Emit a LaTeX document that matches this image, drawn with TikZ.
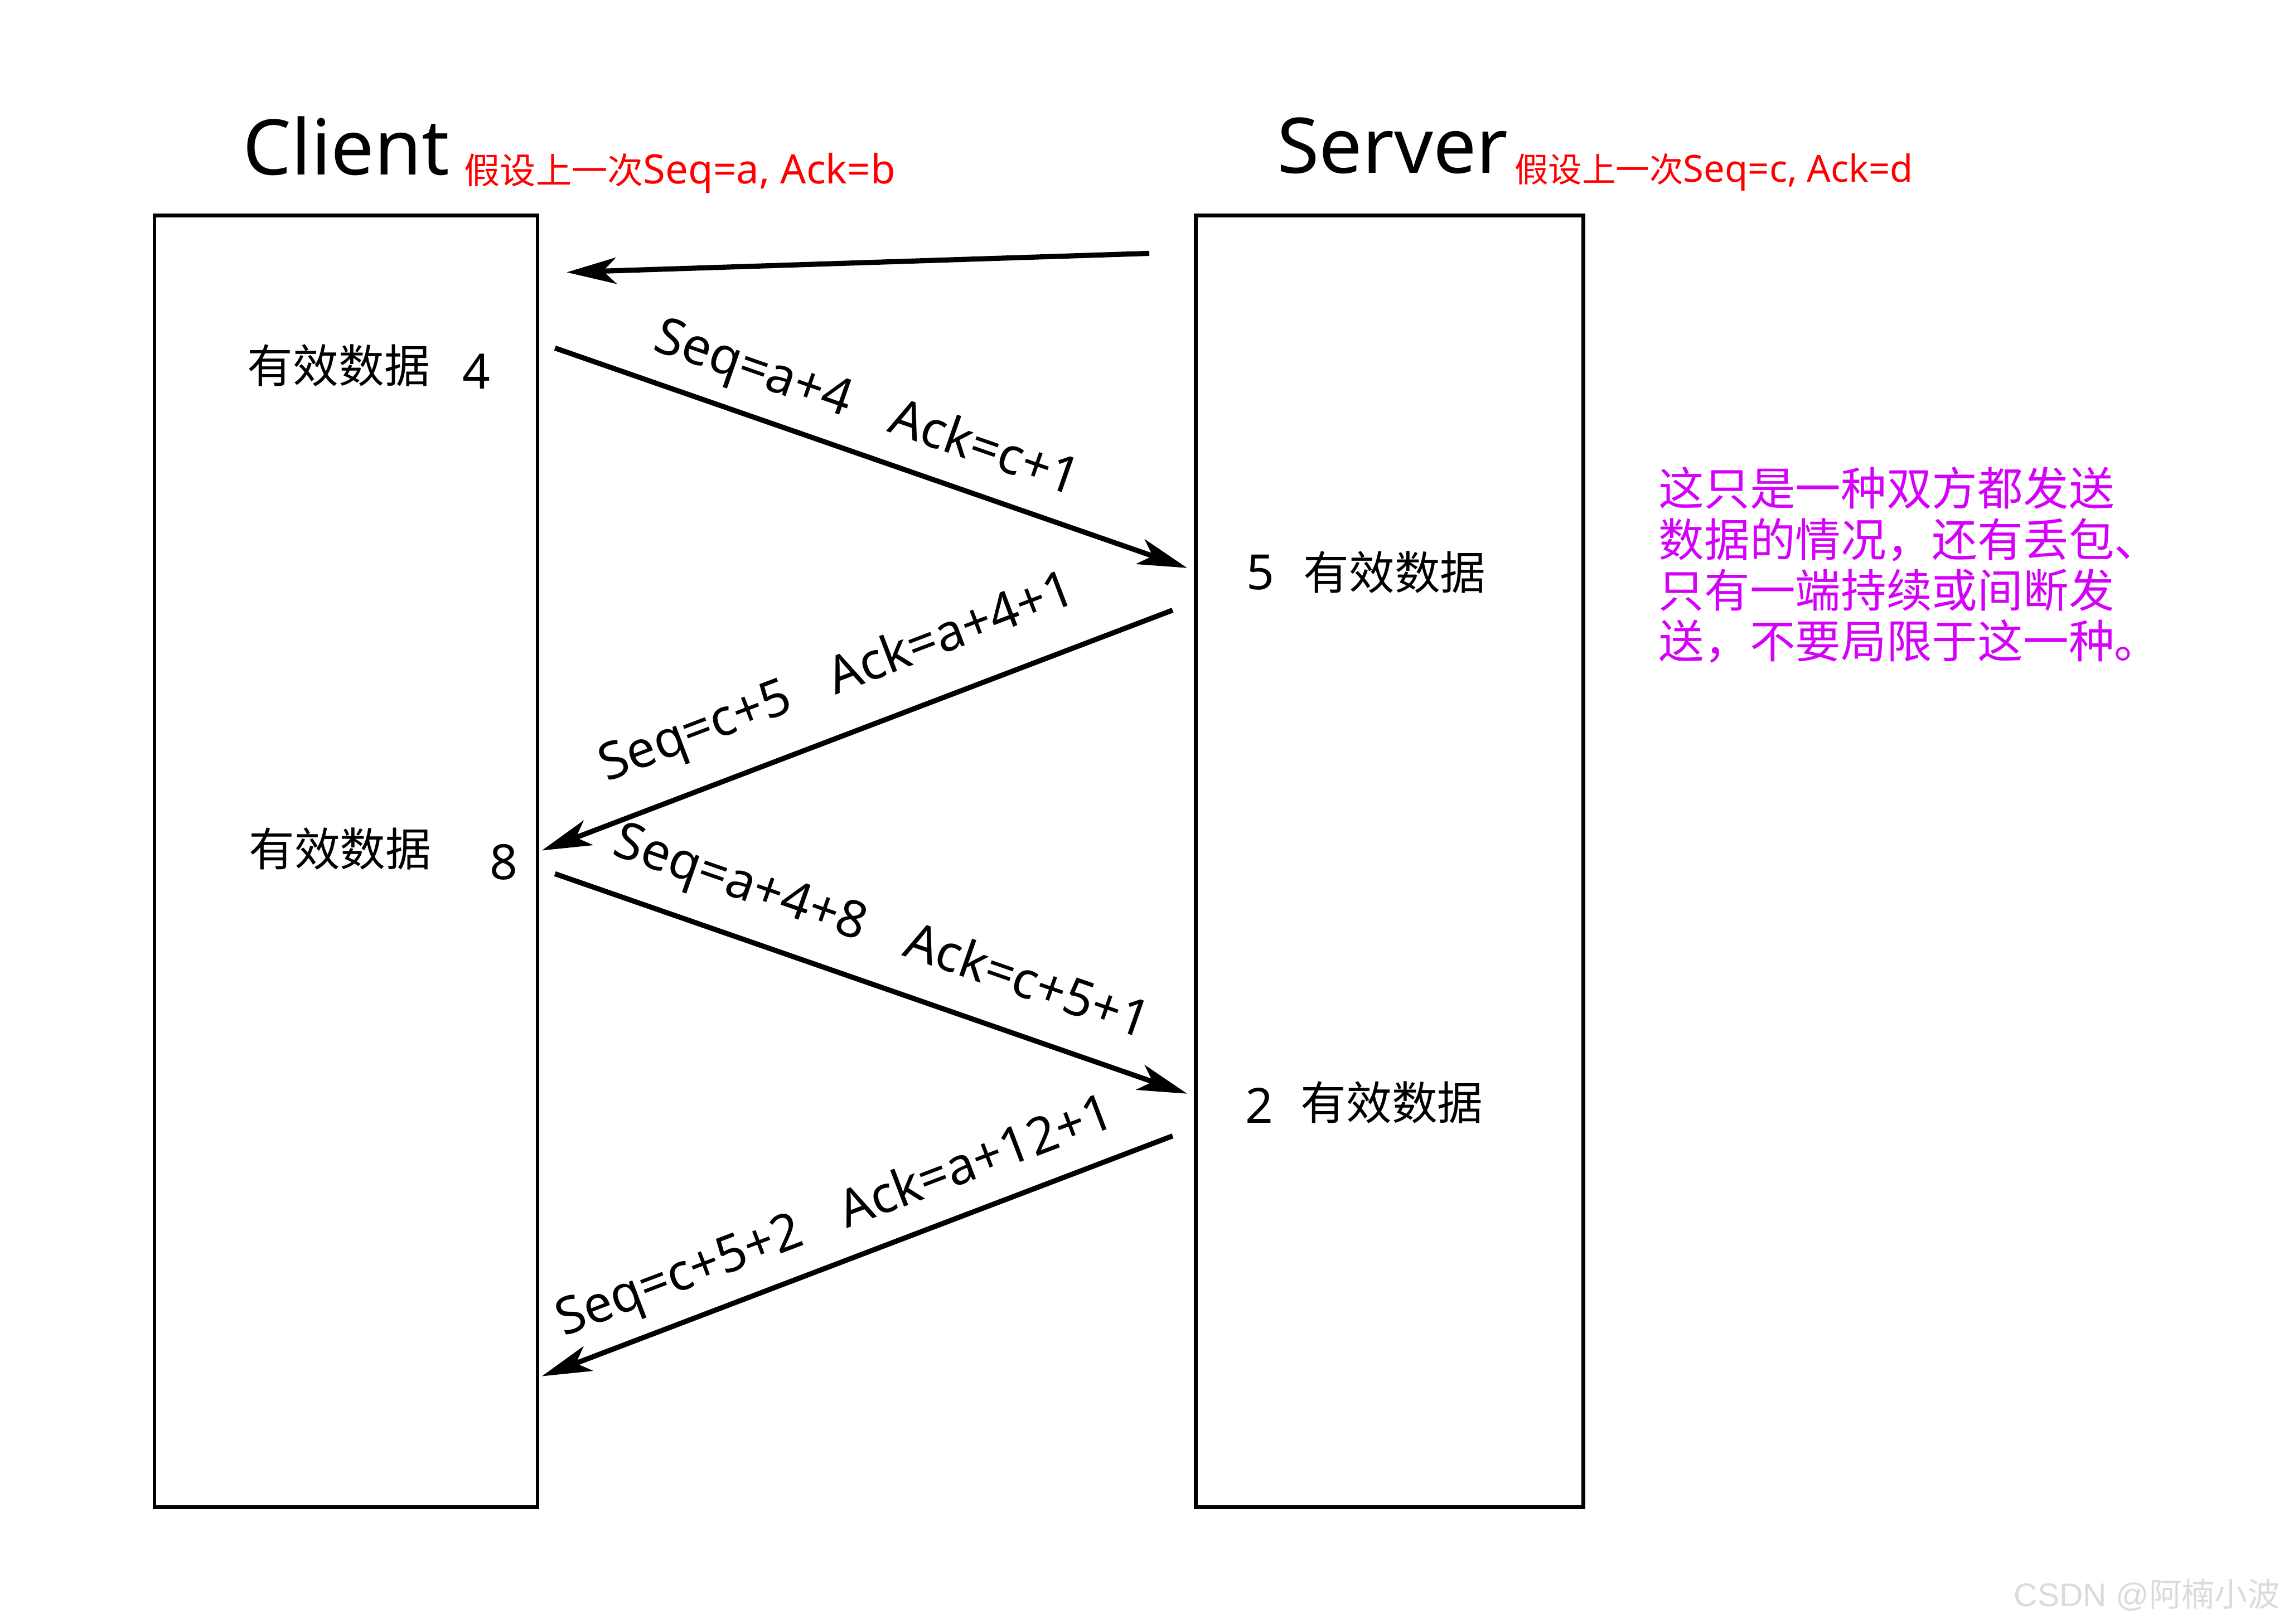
\documentclass[tikz,border=0pt]{standalone}
\usepackage{fontspec}
\setmainfont{Noto Sans}
\newfontfamily\cjk{Noto Sans CJK SC}
\newfontfamily\wmfont{Liberation Sans}
\usepackage{tikz}
\usetikzlibrary{arrows.meta}
\definecolor{remarkpink}{HTML}{D500F9}

\tikzset{
  host/.style={draw, line width=0.7pt, inner sep=0, minimum height=8.87cm},
  msg/.style={line width=1pt, -{Stealth[length=3.4mm,width=1.8mm,inset=0.9mm]}},
  seqlbl/.style={sloped, inner sep=0, font=\fontsize{10}{12}\selectfont},
  payload/.style={inner sep=0, font=\cjk\fontsize{8.9}{10}\selectfont},
  bytes/.style={inner sep=0, font=\fontsize{9.5}{10}\selectfont},
  hostname/.style={inner sep=0, anchor=base west, font=\fontsize{15}{18}\selectfont},
  lastseq/.style={inner sep=0, anchor=base west, text=red},
}
\newcommand{\gap}{\hspace{0.85em}}

\begin{document}
\begin{tikzpicture}
\useasboundingbox (0,0) rectangle (15.68,11.15);

% the two ends
\node[host, minimum width=2.63cm] (client) at (2.375,5.235) {};
\node[host, minimum width=2.66cm] (server) at (9.54,5.235) {};
\node[hostname] (clientname) at (1.66,9.95) {Client};
\node[hostname] (servername) at (8.76,9.96) {Server};
\node[lastseq, font=\fontsize{7.9}{8}\selectfont] (clientlast) at (3.18,9.89)
  {{\cjk\fontsize{7}{8}\selectfont 假设上一次}Seq=a, Ack=b};
\node[lastseq, font=\fontsize{7.3}{8}\selectfont] (serverlast) at (10.39,9.90)
  {{\cjk\fontsize{6.6}{8}\selectfont 假设上一次}Seq=c, Ack=d};

% data carried by each segment
\node[payload] (cdata1) at (2.325,8.64) {有效数据};
\node[bytes] (clen1) at (3.27,8.60) {4};
\node[payload] (cdata2) at (2.335,5.32) {有效数据};
\node[bytes] (clen2) at (3.46,5.23) {8};
\node[bytes] (slen1) at (8.655,7.22) {5};
\node[payload] (sdata1) at (9.575,7.22) {有效数据};
\node[bytes] (slen2) at (8.645,3.56) {2};
\node[payload] (sdata2) at (9.555,3.58) {有效数据};

% ends of the segments
\coordinate (s0) at (7.89,9.41);
\coordinate (c0) at (3.89,9.28);
\coordinate (c1) at (3.81,8.76);
\coordinate (s1) at (8.15,7.25);
\coordinate (s2) at (8.05,6.96);
\coordinate (c2) at (3.72,5.31);
\coordinate (c3) at (3.81,5.15);
\coordinate (s3) at (8.15,3.64);
\coordinate (s4) at (8.05,3.35);
\coordinate (c4) at (3.72,1.70);

\draw[msg] (s0) -- (c0);
\draw[msg] (c1) -- node[seqlbl, pos=0.47, above=1.05mm] {Seq=a+4\gap Ack=c+1} (s1);
\draw[msg] (s2) -- node[seqlbl, pos=0.5, above=1.8mm] {Seq=c+5\gap Ack=a+4+1} (c2);
\draw[msg] (c3) -- node[seqlbl, pos=0.49, above=1.5mm] {Seq=a+4+8\gap Ack=c+5+1} (s3);
\draw[msg] (s4) -- node[seqlbl, pos=0.51, above=1mm] {Seq=c+5+2\gap Ack=a+12+1} (c4);

% remark on the right
\node[inner sep=0, anchor=north west, align=left, text=remarkpink, font=\cjk\fontsize{8.9}{9.95}\selectfont] (remark) at (11.38,7.95)
  {这只是一种双方都发送\\数据的情况，还有丢包、\\只有一端持续或间断发\\送，不要局限于这一种。};

\node[inner sep=0, text=gray!28, font=\wmfont\fontsize{6.4}{7}\selectfont] (watermark) at (14.74,0.20) {CSDN @{\cjk 阿楠小波}};
\end{tikzpicture}
\end{document}
